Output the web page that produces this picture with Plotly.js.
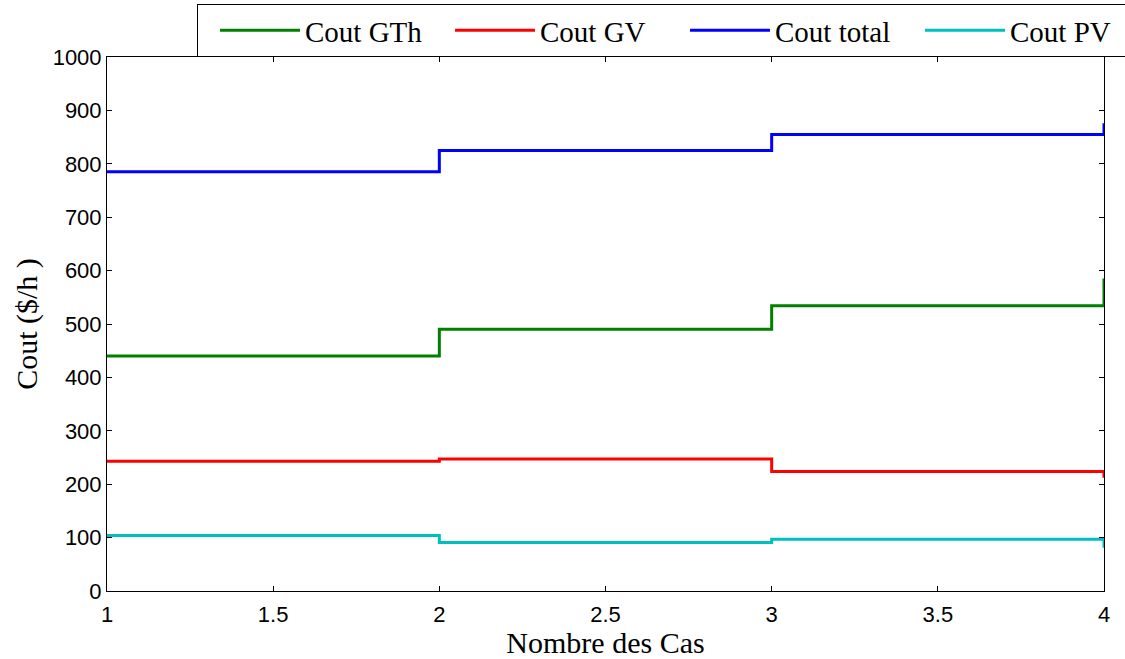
<!DOCTYPE html>
<html>
<head>
<meta charset="utf-8">
<script src="https://cdn.plot.ly/plotly-3.0.1.min.js"></script>
<style>html,body{margin:0;padding:0;background:#fff;}#chart{width:1125px;height:659px;}</style>
</head>
<body>
<div id="chart"></div>
<script>
// Case numbers (x) and costs ($/h) per series, drawn as stairs
const cases = [1, 2, 3, 4];
const coutGTh = [440, 490, 534, 585];
const coutGV = [243, 247, 224, 212];
const coutTotal = [785, 825, 855, 876];
const coutPV = [104, 91, 97, 81];

const seriesNames = ['Cout GTh', 'Cout GV', 'Cout total', 'Cout PV'];
const seriesValues = [coutGTh, coutGV, coutTotal, coutPV];
const seriesColors = ['#008000', '#ff0000', '#0000ff', '#00bfbf'];

const yTicks = [0, 100, 200, 300, 400, 500, 600, 700, 800, 900, 1000];
const xTicks = [1, 1.5, 2, 2.5, 3, 3.5, 4];

const traces = seriesNames.map((name, i) => ({
  type: 'scatter',
  mode: 'lines',
  name: name,
  x: cases,
  y: seriesValues[i],
  line: {shape: 'hv', color: seriesColors[i], width: 3}
}));

const serif = 'Liberation Serif, Times New Roman, serif';
const axisCommon = {
  showline: true,
  linecolor: '#000',
  linewidth: 1,
  mirror: 'ticks',
  ticks: 'inside',
  ticklen: 5,
  tickcolor: '#000',
  showgrid: false,
  zeroline: false,
  tickfont: {family: 'Liberation Sans, Arial, sans-serif', size: 22, color: '#000'}
};

const layout = {
  width: 1125,
  height: 659,
  paper_bgcolor: '#fff',
  plot_bgcolor: '#fff',
  margin: {l: 107, r: 21, t: 57, b: 68, autoexpand: false},
  showlegend: true,
  legend: {
    orientation: 'h',
    x: 0.0903,
    xanchor: 'left',
    y: 1,
    yanchor: 'bottom',
    bgcolor: '#fff',
    bordercolor: '#000',
    borderwidth: 1,
    indentation: 17,
    itemwidth: 80,
    entrywidth: 123,
    font: {family: serif, size: 29, color: '#000'}
  },
  xaxis: Object.assign({}, axisCommon, {
    range: [1, 4],
    tickvals: xTicks,
    ticktext: xTicks.map(String),
    ticklabelstandoff: 4,
    title: {text: 'Nombre des Cas', standoff: 8,
      font: {family: serif, size: 30, color: '#000'}}
  }),
  yaxis: Object.assign({}, axisCommon, {
    range: [0, 1000],
    tickvals: yTicks,
    ticktext: yTicks.map(String),
    title: {text: 'Cout ($/h )', standoff: 6,
      font: {family: serif, size: 30, color: '#000'}}
  })
};

Plotly.newPlot('chart', traces, layout, {displayModeBar: false, staticPlot: true});
</script>
</body>
</html>
